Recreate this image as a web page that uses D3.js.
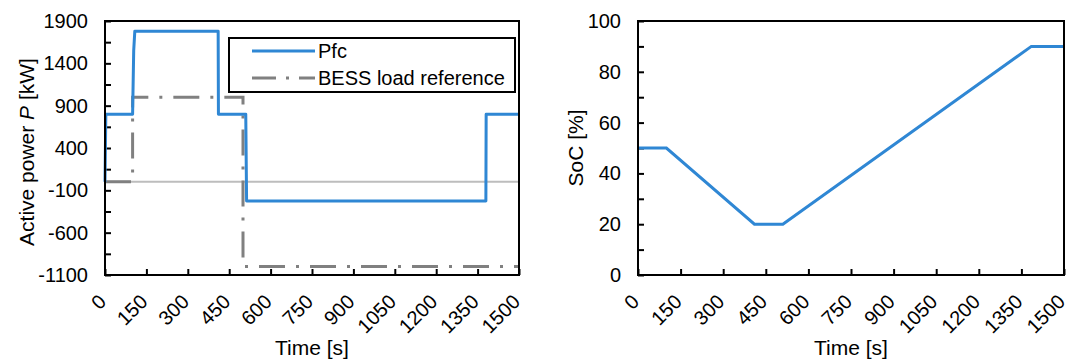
<!DOCTYPE html>
<html>
<head>
<meta charset="utf-8">
<script src="https://cdn.jsdelivr.net/npm/d3@7"></script>
<style>
  body { margin: 0; background: #fff; }
  svg { display: block; font-family: "Liberation Sans", Arial, sans-serif; }
  .tick text { font-size: 20px; fill: #000; }
</style>
</head>
<body>
<svg id="chart" width="1069" height="361"></svg>
<script>
// data
const timeTicks = d3.range(0, 1501, 150);
const powerTicks = d3.range(-1100, 1901, 250);
const socTicks = d3.range(0, 101, 10);

const pfcTime  = [0, 3, 100, 104, 108, 410, 411, 510, 513, 1380, 1381, 1500];
const pfcValue = [0, 800, 800, 1550, 1780, 1780, 800, 800, -225, -225, 800, 800];

const bessTime  = [0, 100, 100, 500, 500, 1500];
const bessValue = [0, 0, 1000, 1000, -1000, -1000];

const socTime  = [0, 100, 410, 510, 1385, 1500];
const socValue = [50, 50, 20, 20, 90, 90];

const blue = '#2f87d4';
const grey = '#808080';
const svg = d3.select('#chart');

function panel(left, width, yDomain, yTicks, labelEvery) {
  const top = 21, height = 254;
  const x = d3.scaleLinear().domain([0, 1500]).range([left, left + width]);
  const y = d3.scaleLinear().domain(yDomain).range([top + height, top]);

  const xAxis = g => g
    .attr('transform', `translate(0, ${top + height})`)
    .call(d3.axisBottom(x).tickValues(timeTicks).tickSize(-6).tickSizeOuter(0).tickFormat(d3.format('d')))
    .call(g => g.select('.domain').remove())
    .call(g => g.selectAll('.tick line').attr('stroke', '#000').attr('stroke-width', 2))
    .call(g => g.selectAll('.tick text')
      .attr('x', 0).attr('y', 0).attr('dy', '0.35em')
      .attr('text-anchor', 'end')
      .attr('transform', 'translate(-3, 23) rotate(-45)'));

  const yAxis = g => g
    .attr('transform', `translate(${left}, 0)`)
    .call(d3.axisLeft(y).tickValues(yTicks).tickSize(-6).tickSizeOuter(0).tickPadding(17)
      .tickFormat(d => (d - yDomain[0]) % labelEvery === 0 ? d : ''))
    .call(g => g.select('.domain').remove())
    .call(g => g.selectAll('.tick line').attr('stroke', '#000').attr('stroke-width', 2));

  svg.append('g').call(xAxis);
  svg.append('g').call(yAxis);

  svg.append('text')
    .attr('x', left + width / 2).attr('y', 355)
    .attr('text-anchor', 'middle')
    .style('font-size', '21px')
    .text('Time [s]');

  return {x, y, top, height, left, width};
}

// left: active power ____________________________________________________________
const p1 = panel(105, 414, [-1100, 1900], powerTicks, 500);

svg.append('line')
  .attr('x1', p1.x(0)).attr('x2', p1.x(1500))
  .attr('y1', p1.y(0)).attr('y2', p1.y(0))
  .attr('stroke', '#bdbdbd').attr('stroke-width', 2);

const line1 = d3.line().x(d => p1.x(d[0])).y(d => p1.y(d[1]));

svg.append('path')
  .datum(bessTime.map((t, i) => [t, bessValue[i]]))
  .attr('d', line1)
  .attr('fill', 'none').attr('stroke', grey).attr('stroke-width', 3)
  .attr('stroke-dasharray', '26,11,3,11');

svg.append('path')
  .datum(pfcTime.map((t, i) => [t, pfcValue[i]]))
  .attr('d', line1)
  .attr('fill', 'none').attr('stroke', blue).attr('stroke-width', 3)
  .attr('stroke-linejoin', 'round');

svg.append('rect')
  .attr('x', p1.left).attr('y', p1.top).attr('width', p1.width).attr('height', p1.height)
  .attr('fill', 'none').attr('stroke', '#000').attr('stroke-width', 2);

// legend
const lg = svg.append('g');
lg.append('rect')
  .attr('x', 229).attr('y', 38).attr('width', 286).attr('height', 54)
  .attr('fill', '#fff').attr('stroke', '#000').attr('stroke-width', 2);
const legendItems = [
  {name: 'Pfc', color: blue, dash: null, y: 51},
  {name: 'BESS load reference', color: grey, dash: '24,10,3,10', y: 78}
];
legendItems.forEach(d => {
  lg.append('line')
    .attr('x1', 252).attr('x2', 315).attr('y1', d.y).attr('y2', d.y)
    .attr('stroke', d.color).attr('stroke-width', 3)
    .attr('stroke-dasharray', d.dash);
  lg.append('text')
    .attr('x', 318).attr('y', d.y).attr('dy', '0.35em')
    .style('font-size', '20px')
    .text(d.name);
});

svg.append('text')
  .attr('transform', `translate(34, ${p1.top + p1.height / 2 + 4}) rotate(-90)`)
  .attr('text-anchor', 'middle')
  .style('font-size', '21px')
  .call(t => {
    t.append('tspan').text('Active power ');
    t.append('tspan').style('font-style', 'italic').text('P');
    t.append('tspan').text(' [kW]');
  });

// right: state of charge _________________________________________________________
const p2 = panel(638, 426, [0, 100], socTicks, 20);

const line2 = d3.line().x(d => p2.x(d[0])).y(d => p2.y(d[1]));
svg.append('path')
  .datum(socTime.map((t, i) => [t, socValue[i]]))
  .attr('d', line2)
  .attr('fill', 'none').attr('stroke', blue).attr('stroke-width', 3);

svg.append('rect')
  .attr('x', p2.left).attr('y', p2.top).attr('width', p2.width).attr('height', p2.height)
  .attr('fill', 'none').attr('stroke', '#000').attr('stroke-width', 2);

svg.append('text')
  .attr('transform', `translate(583, ${p2.top + p2.height / 2}) rotate(-90)`)
  .attr('text-anchor', 'middle')
  .style('font-size', '21px')
  .text('SoC [%]');
</script>
</body>
</html>
